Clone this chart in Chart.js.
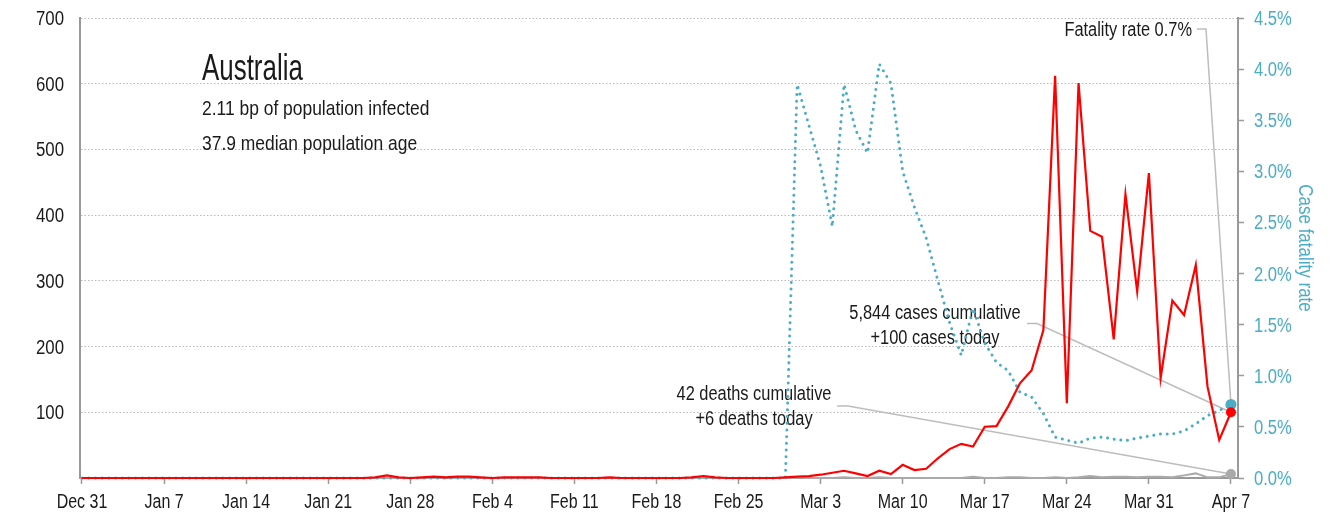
<!DOCTYPE html>
<html><head><meta charset="utf-8">
<script src="https://cdn.jsdelivr.net/npm/chart.js@4.4.1/dist/chart.umd.min.js"></script>
<style>html,body{margin:0;padding:0;background:#fff;overflow:hidden}</style>
</head><body>
<canvas id="c" width="1332" height="517"></canvas>
<script>
// ---- data (one value per day, Dec 31 2019 .. Apr 7 2020) ----
const tickLabels = ['Dec 31','Jan 7','Jan 14','Jan 21','Jan 28','Feb 4','Feb 11','Feb 18','Feb 25','Mar 3','Mar 10','Mar 17','Mar 24','Mar 31','Apr 7'];
const leftTicks = [100,200,300,400,500,600,700];
const cases = [
  0,0,0,0,0,0,0,
  0,0,0,0,0,0,0,
  0,0,0,0,0,0,0,
  0,0,0,0,1,4,1,
  0,1,2,1,2,2,1,
  0,1,1,1,1,0,0,
  0,0,0,1,0,0,0,
  0,0,0,1,3,1,0,
  0,0,0,0,1,2,3,
  5,8,11,7,3,11,6,
  20,12,14,30,44,52,48,
  78,79,109,144,164,225,612,
  114,601,376,367,211,432,284,
  464,152,270,248,324,139,58,
  100
];
const deaths = [
  0,0,0,0,0,0,0,
  0,0,0,0,0,0,0,
  0,0,0,0,0,0,0,
  0,0,0,0,0,0,0,
  0,0,0,0,0,0,0,
  0,0,0,0,0,0,0,
  0,0,0,0,0,0,0,
  0,0,0,0,0,0,0,
  0,0,0,0,0,1,0,
  0,0,1,0,0,1,0,
  0,0,0,0,0,0,2,
  0,0,1,1,0,0,1,
  0,1,3,1,2,2,1,
  2,2,1,4,7,1,1,
  6
];
const fatalityRate = [
  0,0,0,0,0,0,0,
  0,0,0,0,0,0,0,
  0,0,0,0,0,0,0,
  0,0,0,0,0,0,0,
  0,0,0,0,0,0,0,
  0,0,0,0,0,0,0,
  0,0,0,0,0,0,0,
  0,0,0,0,0,0,0,
  0,0,0,0,0,3.85,3.45,
  3.05,2.46,3.85,3.40,3.18,4.05,3.86,
  3.00,2.65,2.35,1.93,1.52,1.20,1.66,
  1.32,1.13,1.05,0.84,0.79,0.63,0.40,
  0.37,0.34,0.39,0.40,0.38,0.365,0.39,
  0.41,0.43,0.43,0.46,0.53,0.61,0.66,
  0.72
];
const titleText = 'Australia';
const subLines = ['2.11 bp of population infected', '37.9 median population age'];
const rateNote = 'Fatality rate 0.7%';
const caseNote = ['5,844 cases cumulative', '+100 cases today'];
const deathNote = ['42 deaths cumulative', '+6 deaths today'];
const rightTitle = 'Case fatality rate';

// ---- styling ----
const FAMILY = "'Liberation Sans', Arial, sans-serif";
const RED = '#ff0000', TEAL = '#4bacc6', GRAY = '#aaaaaa', AXIS = '#999999', TXT = '#1a1a1a';
const last = cases.length - 1;
const toXY = arr => arr.map((v, i) => ({x: i, y: v}));
const lastOnly = r => ctx => (ctx.dataIndex === last ? r : 0);

// condensed text: real text, horizontally narrowed to match the narrow face of the original
function cText(ctx, str, x, y, size, sx, align, color, rot) {
  ctx.save();
  ctx.font = size + 'px ' + FAMILY;
  ctx.fillStyle = color;
  ctx.textAlign = align;
  ctx.textBaseline = 'alphabetic';
  ctx.translate(x, y);
  if (rot) ctx.rotate(rot);
  ctx.scale(sx, 1);
  ctx.fillText(str, 0, 0);
  ctx.restore();
}

const notesPlugin = {
  id: 'notes',
  beforeDatasetsDraw(chart) {
    const {ctx, scales: {x, y, y1}} = chart;
    const px = x.getPixelForValue(last);
    const pCase = y.getPixelForValue(cases[last]);
    const pDeath = y.getPixelForValue(deaths[last]);
    const pRate = y1.getPixelForValue(fatalityRate[last]);
    ctx.save();
    ctx.strokeStyle = '#bdbdbd';
    ctx.lineWidth = 1.5;
    const poly = pts => { ctx.beginPath(); ctx.moveTo(pts[0][0], pts[0][1]); for (let i = 1; i < pts.length; i++) ctx.lineTo(pts[i][0], pts[i][1]); ctx.stroke(); };
    poly([[1197, 29], [1206, 29], [px, pRate]]);
    poly([[1027, 323.5], [1037, 323.5], [px, pCase]]);
    poly([[837, 406], [848, 406], [px, pDeath]]);
    ctx.restore();

    cText(ctx, titleText, 202, 80, 36, 0.72, 'left', TXT);
    cText(ctx, subLines[0], 202, 115, 21, 0.83, 'left', TXT);
    cText(ctx, subLines[1], 202, 150, 21, 0.83, 'left', TXT);
    cText(ctx, rateNote, 1192, 36, 20, 0.82, 'right', TXT);
    cText(ctx, caseNote[0], 935, 319, 20, 0.82, 'center', TXT);
    cText(ctx, caseNote[1], 935, 344, 20, 0.82, 'center', TXT);
    cText(ctx, deathNote[0], 754, 400, 20, 0.82, 'center', TXT);
    cText(ctx, deathNote[1], 754, 425, 20, 0.82, 'center', TXT);
  },
  afterDraw(chart) {
    const {ctx, scales: {x, y, y1}} = chart;
    x.ticks.forEach((t, i) => {
      cText(ctx, tickLabels[i], x.getPixelForValue(t.value), x.top + 30, 20, 0.8, 'center', TXT);
    });
    y.ticks.forEach(t => {
      cText(ctx, String(t.value), y.right - 16, y.getPixelForValue(t.value) + 7, 20, 0.84, 'right', TXT);
    });
    y1.ticks.forEach(t => {
      cText(ctx, t.value.toFixed(1) + '%', y1.left + 16, y1.getPixelForValue(t.value) + 7, 20, 0.83, 'left', TEAL);
    });
    cText(ctx, rightTitle, y1.left + 61, (y1.top + y1.bottom) / 2, 20, 0.85, 'center', TEAL, Math.PI / 2);
  }
};

new Chart(document.getElementById('c'), {
  type: 'line',
  data: {
    datasets: [
      {
        label: 'Daily cases', data: toXY(cases), yAxisID: 'y',
        borderColor: RED, backgroundColor: RED, borderWidth: 2.2,
        pointRadius: lastOnly(5), pointBorderWidth: 0, tension: 0, clip: false
      },
      {
        label: 'Case fatality rate', data: toXY(fatalityRate), yAxisID: 'y1',
        borderColor: TEAL, backgroundColor: TEAL, borderWidth: 3,
        borderDash: [0.01, 6.7], borderCapStyle: 'round',
        pointRadius: lastOnly(5.5), pointBorderWidth: 0, tension: 0, clip: false
      },
      {
        label: 'Daily deaths', data: toXY(deaths), yAxisID: 'y',
        borderColor: GRAY, backgroundColor: GRAY, borderWidth: 2,
        pointRadius: lastOnly(5), pointBorderWidth: 0, tension: 0, clip: false
      }
    ]
  },
  options: {
    responsive: false, animation: false, devicePixelRatio: 1,
    layout: {padding: {top: 18, left: 0, right: 0, bottom: 0}},
    plugins: {legend: {display: false}, tooltip: {enabled: false}},
    scales: {
      x: {
        type: 'linear', min: -0.17, max: 98.6,
        afterFit: s => { s.height = 39; },
        afterBuildTicks: s => { s.ticks = tickLabels.map((_, i) => ({value: i * 7})); },
        ticks: {display: false, autoSkip: false},
        grid: {drawOnChartArea: false, drawTicks: true, tickLength: 6, tickWidth: 1.5, tickColor: AXIS},
        border: {display: true, color: AXIS, width: 2}
      },
      y: {
        position: 'left', min: 0, max: 700,
        afterFit: s => { s.width = 80; },
        afterBuildTicks: s => { s.ticks = leftTicks.map(v => ({value: v})); },
        ticks: {display: false},
        grid: {drawOnChartArea: true, drawTicks: false, color: '#b8b8b8', lineWidth: 1},
        border: {display: true, color: AXIS, width: 2, dash: [1.5, 2]}
      },
      y1: {
        position: 'right', min: 0, max: 4.5,
        afterFit: s => { s.width = 94; },
        ticks: {display: false, stepSize: 0.5},
        grid: {drawOnChartArea: false, drawTicks: true, tickLength: 6, tickWidth: 1.5, tickColor: AXIS},
        border: {display: true, color: AXIS, width: 2}
      }
    }
  },
  plugins: [notesPlugin]
});
</script>
</body></html>
